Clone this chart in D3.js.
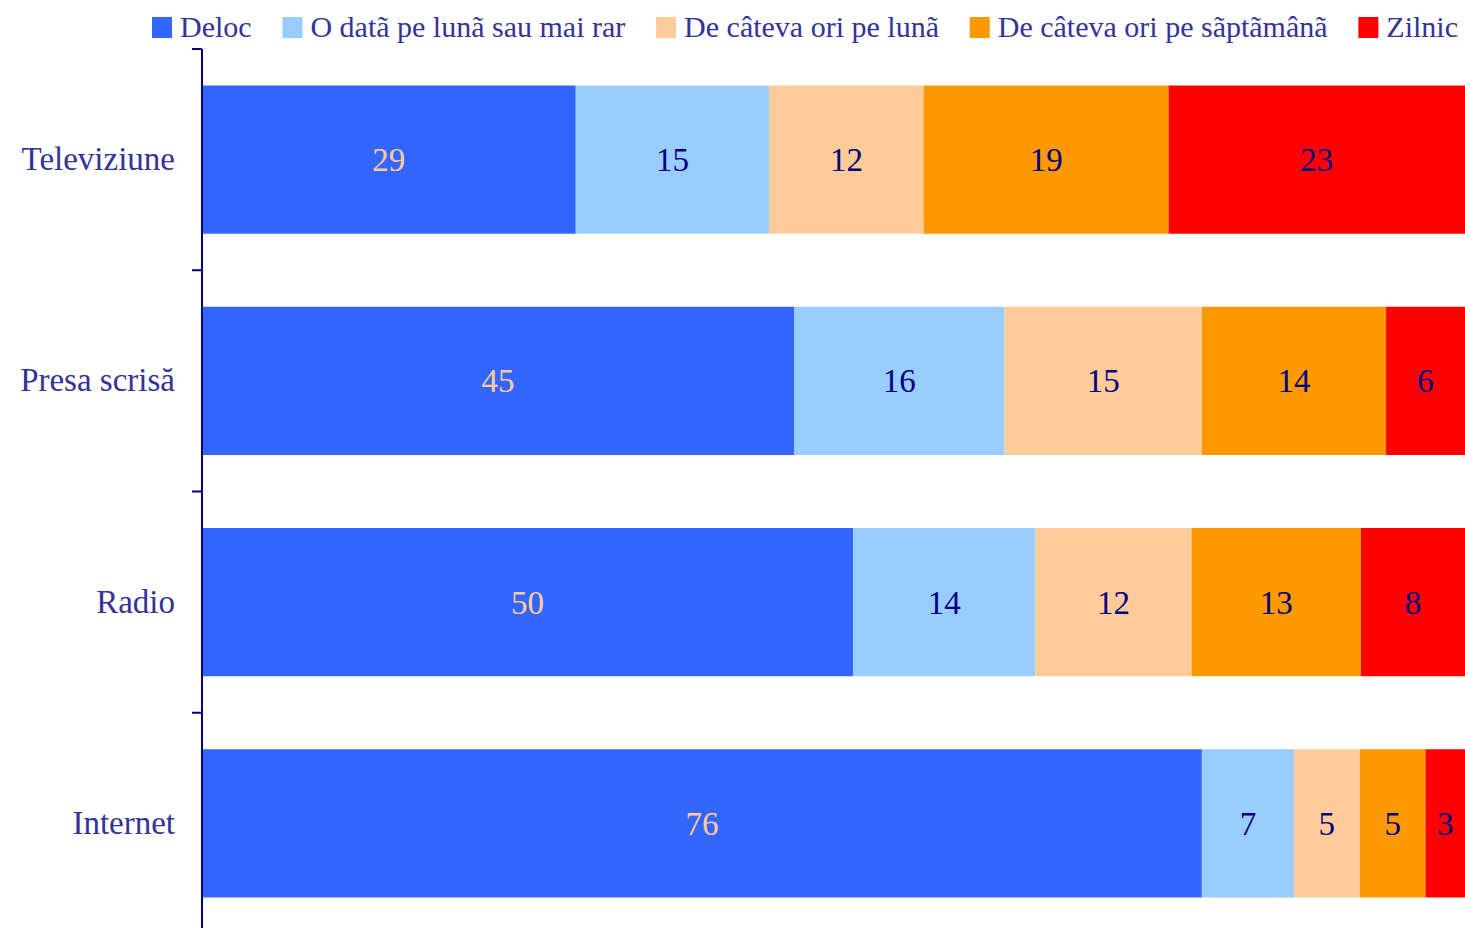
<!DOCTYPE html>
<meta charset="utf-8">
<style>
body { margin: 0; background: #fff; }
</style>
<body>
<script src="https://cdn.jsdelivr.net/npm/d3@7"></script>
<script>

var categories = ["Televiziune", "Presa scrisă", "Radio", "Internet"];
var seriesNames = ["Deloc", "O datã pe lunã sau mai rar", "De câteva ori pe lunã", "De câteva ori pe sãptãmânã", "Zilnic"];
var seriesColors = ["#3366ff", "#99ccff", "#ffcc99", "#ff9900", "#ff0000"];
var labelColors = ["#ffcc99", "#000080", "#000080", "#000080", "#000080"];

var deloc    = [29, 45, 50, 76];
var odata    = [15, 16, 14, 7];
var cateva   = [12, 15, 12, 5];
var saptam   = [19, 14, 13, 5];
var zilnic   = [23, 6, 8, 3];

var seriesValues = [deloc, odata, cateva, saptam, zilnic];

var width = 1465, height = 928;
var fam = "'Liberation Serif'";

var ctx = document.createElement("canvas").getContext("2d");
function w(font, s) { ctx.font = font; return ctx.measureText(s).width; }

var svg = d3.select("body").append("svg")
    .attr("width", width)
    .attr("height", height);

// rows -> stacked, normalised to the row total
var rows = categories.map(function(c, i) {
    var r = {cat: c};
    seriesNames.forEach(function(s, j) { r[s] = seriesValues[j][i]; });
    return r;
});

var stack = d3.stack().keys(seriesNames).offset(d3.stackOffsetExpand);
var layers = stack(rows);

var x = d3.scaleLinear().domain([0, 1]).range([202, 1465]);
var y = d3.scaleBand().domain(categories).range([49, 934]).paddingInner(0.33).paddingOuter(0.165);

var layer = svg.selectAll(".layer")
    .data(layers)
  .enter().append("g")
    .attr("class", "layer");

layer.selectAll("rect")
    .data(function(d) { return d; })
  .enter().append("rect")
    .attr("x", function(d) { return x(d[0]); })
    .attr("y", function(d) { return y(d.data.cat); })
    .attr("width", function(d) { return x(d[1]) - x(d[0]); })
    .attr("height", y.bandwidth())
    .attr("fill", function(d, i, n) { return seriesColors[d3.select(n[i].parentNode).datum().index]; });

layer.selectAll("text")
    .data(function(d) { return d.map(function(p) { return {p: p, k: d.key, idx: d.index}; }); })
  .enter().append("text")
    .attr("x", function(d) { return (x(d.p[0]) + x(d.p[1])) / 2; })
    .attr("y", function(d) { return y(d.p.data.cat) + y.bandwidth() / 2; })
    .attr("dy", "0.35em")
    .attr("text-anchor", "middle")
    .style("font-family", fam)
    .style("font-size", "33px")
    .attr("fill", function(d) { return labelColors[d.idx]; })
    .text(function(d) { return d.p.data[d.k]; });

// axis with labels
var axis = svg.append("g")
    .attr("transform", "translate(202,0)")
    .call(d3.axisLeft(y).tickSize(0).tickPadding(27));
axis.select(".domain").remove();
axis.selectAll("text")
    .style("font-family", fam)
    .style("font-size", "33px")
    .attr("fill", "#333399");

svg.append("line")
    .attr("x1", 202).attr("x2", 202)
    .attr("y1", 49).attr("y2", 934)
    .attr("stroke", "#000080").attr("stroke-width", 2);

var bounds = categories.map(function(c) { return y(c) - y.step() * y.paddingInner() / 2; });
bounds.push(934);
bounds[0] = 49;
svg.selectAll(".tick-mark")
    .data(bounds)
  .enter().append("line")
    .attr("class", "tick-mark")
    .attr("x1", 192).attr("x2", 202)
    .attr("y1", function(d) { return d; }).attr("y2", function(d) { return d; })
    .attr("stroke", "#000080").attr("stroke-width", 2);

// legend, spread to end near x=1458 like the original
var legFs = 30;
var textW = seriesNames.map(function(s) { return w(legFs + "px " + fam, s); });
var gap = (1458 - 152 - d3.sum(textW) - 5 * 28) / 4;
var lx = 152;
seriesNames.forEach(function(s, i) {
    var g = svg.append("g").attr("transform", "translate(" + lx + ",17)");
    g.append("rect").attr("width", 20).attr("height", 21).attr("fill", seriesColors[i]);
    g.append("text")
        .attr("x", 28).attr("y", 20)
        .style("font-family", fam)
        .style("font-size", legFs + "px")
        .attr("fill", "#333399")
        .text(s);
    lx += 28 + textW[i] + gap;
});

</script>
